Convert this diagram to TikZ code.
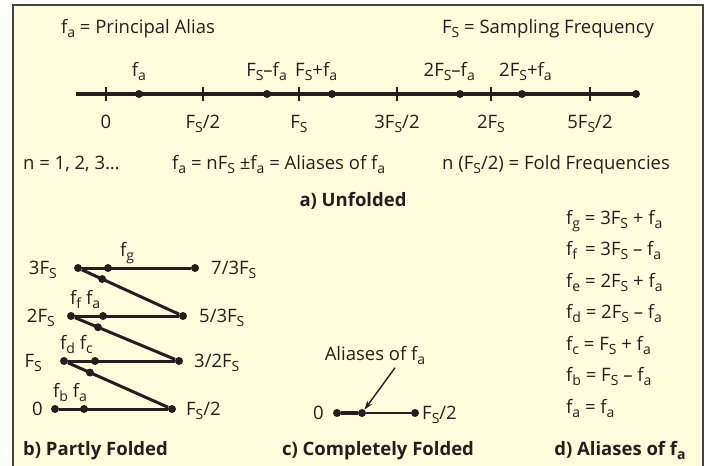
\documentclass[tikz,border=0pt]{standalone}
\usepackage{fontspec}
\setmainfont{Open Sans}
\usetikzlibrary{arrows.meta, calc}
\definecolor{paper}{HTML}{FFFCDB}
\definecolor{ink}{HTML}{231F20}
\newcommand{\lo}[1]{\raisebox{-0.45ex}{\fontsize{14}{14}\selectfont #1}}
\newcommand{\fa}{f\lo{a}}
\newcommand{\Fs}{F\lo{S}}

\begin{document}
\begin{tikzpicture}[x=1pt, y=-1pt, >={Stealth[length=9pt, width=6pt]},
	dot/.style={circle, fill=ink, inner sep=0pt, minimum size=8pt},
	axis/.style={line width=3.5pt, color=ink},
	tickmark/.style={line width=1.8pt, color=ink},
	fold/.style={line width=3pt, color=ink},
	thin fold/.style={line width=2pt, color=ink},
	pointer/.style={->, line width=1.4pt, color=ink},
	txt/.style={font=\fontsize{18.5}{22}\selectfont, text=ink, inner sep=0pt, anchor=base},
	head/.style={txt, font=\fontsize{18.5}{22}\selectfont\bfseries}]

	\useasboundingbox (0,0) rectangle (710,466);
	\fill[white] (0,0) rectangle (710,466);
	\draw[line width=2pt, draw=ink!85, fill=paper] (13,5) rectangle (703,490);

	% a) unfolded
	\node[txt] at (138,33) {\fa{} = Principal Alias};
	\node[txt] at (548,33) {\Fs{} = Sampling Frequency};

	\coordinate (l0) at (76,94);
	\node[dot] (lend) at (636,94) {};
	\draw[axis] (l0) -- (lend.center);
	\foreach \x/\lab in {106/0, 203/{\Fs/2}, 299/{\Fs}, 397/{3\Fs/2}, 491/{2\Fs}, 590/{5\Fs/2}} {
		\draw[tickmark] (\x,87) -- (\x,101);
		\node[txt] at (\x,128) {\lab};
	}
	\foreach \x in {139, 267, 332, 460, 522} {
		\node[dot] (a\x) at (\x,94) {};
	}
	\node[txt] at (139,76) {\fa};
	\node[txt, anchor=base east] at (287,76) {\Fs–\fa};
	\node[txt, anchor=base west] at (295,76) {\Fs+\fa};
	\node[txt, anchor=base east] at (475,76) {2\Fs–\fa};
	\node[txt, anchor=base west] at (499,76) {2\Fs+\fa};

	\node[txt, anchor=base west] at (23,169) {n = 1, 2, 3…};
	\node[txt, anchor=base west] at (172,169) {\fa{} = n\Fs{} ±\fa{} = Aliases of \fa};
	\node[txt, anchor=base west] at (442,169) {n (\Fs/2) = Fold Frequencies};
	\node[head] at (353,206) {a) Unfolded};

	% b) partly folded
	\node[dot] (s3) at (78,268) {};
	\node[dot] (g3) at (108,268) {};
	\node[dot] (e3) at (195,268) {};
	\node[dot] (s2) at (71,316) {};
	\node[dot] (g2) at (103,316) {};
	\node[dot] (e2) at (183,316) {};
	\node[dot] (s1) at (64,361) {};
	\node[dot] (g1) at (95,361) {};
	\node[dot] (e1) at (179,361) {};
	\node[dot] (s0) at (55,409) {};
	\node[dot] (g0) at (84,409) {};
	\node[dot] (e0) at (172,409) {};
	\node[dot] (h3) at ($(s3)!0.23!(e2)$) {};
	\node[dot] (h2) at ($(s2)!0.25!(e1)$) {};
	\node[dot] (h1) at ($(s1)!0.24!(e0)$) {};

	\draw[fold] (s3) -- (e3);
	\draw[fold] (s3) -- (e2);
	\draw[fold] (s2) -- (e2);
	\draw[fold] (s2) -- (e1);
	\draw[fold] (s1) -- (e1);
	\draw[fold] (s1) -- (e0);
	\draw[fold] (s0) -- (e0);

	\node[txt, anchor=base east] at (57,274.5) {3\Fs};
	\node[txt, anchor=base east] at (55,322.5) {2\Fs};
	\node[txt, anchor=base east] at (42,367.5) {\Fs};
	\node[txt, anchor=base east] at (43,415.5) {0};
	\node[txt, anchor=base west] at (211,274.5) {7/3\Fs};
	\node[txt, anchor=base west] at (199,322.5) {5/3\Fs};
	\node[txt, anchor=base west] at (194,367.5) {3/2\Fs};
	\node[txt, anchor=base west] at (186,415.5) {\Fs/2};
	\node[txt, anchor=base west] at (120,256) {f\lo{g}};
	\node[txt, anchor=base west] at (70,304) {f\lo{f} \fa};
	\node[txt, anchor=base west] at (60,349) {f\lo{d} f\lo{c}};
	\node[txt, anchor=base west] at (53,397) {f\lo{b} \fa};
	\node[head, anchor=base west] at (23,455) {b) Partly Folded};

	% c) completely folded
	\node[dot] (c0) at (337,413) {};
	\node[dot] (c1) at (362,413) {};
	\node[dot] (c2) at (415,413) {};
	\draw[axis] (c0) -- (c1);
	\draw[thin fold] (c1) -- (c2);
	\node[txt, anchor=base east] at (324,419.5) {0};
	\node[txt, anchor=base west] at (422,419.5) {\Fs/2};
	\node[txt] (alias) at (375,360) {Aliases of \fa};
	\draw[pointer] ([xshift=20pt, yshift=-3pt]alias.south) -- (c1);
	\node[head] at (378,455) {c) Completely Folded};

	% d) aliases
	\node[txt, anchor=base west] at (566,224) {f\lo{g} = 3\Fs{} + \fa};
	\node[txt, anchor=base west] at (566,255.5) {f\lo{f}\, = 3\Fs{} – \fa};
	\node[txt, anchor=base west] at (566,287) {f\lo{e} = 2\Fs{} + \fa};
	\node[txt, anchor=base west] at (566,318.5) {f\lo{d} = 2\Fs{} – \fa};
	\node[txt, anchor=base west] at (566,350) {f\lo{c} = \Fs{} + \fa};
	\node[txt, anchor=base west] at (566,381.5) {f\lo{b} = \Fs{} – \fa};
	\node[txt, anchor=base west] at (566,413) {\fa{} = \fa};
	\node[head] at (620,455) {d) Aliases of \fa};
\end{tikzpicture}
\end{document}
